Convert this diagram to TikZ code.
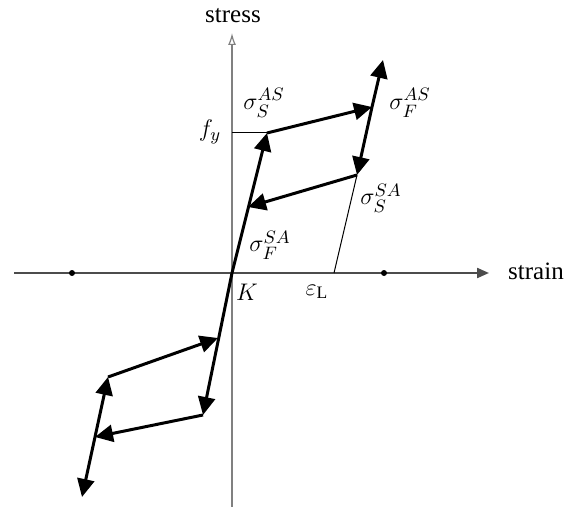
\documentclass[tikz,border=0pt]{standalone}
\usepackage{amsmath,amssymb}
\usepackage{fontspec}
\setmainfont{Liberation Serif}
\usetikzlibrary{arrows.meta}

\begin{document}
\begin{tikzpicture}[
    x=0.5pt, y=-0.5pt,
    axis/.style={draw=gray!60!black, line width=1.1pt},
    branch/.style={line width=1.5pt, line join=round, -{Triangle[length=9pt, width=8.5pt]}},
    guide/.style={draw=black, line width=0.5pt},
    dot/.style={circle, fill=black, inner sep=0pt, minimum size=3pt},
    every node/.style={font=\fontsize{12.5}{14}\selectfont, inner sep=1pt}
]
\useasboundingbox (0,0) rectangle (582,507);

\coordinate (K) at (232,273);
\coordinate (xl) at (14,273);
\coordinate (xr) at (489,273);
\coordinate (yb) at (232,507);
\coordinate (yt) at (232,33);
\coordinate (fy) at (232,133);
\coordinate (E) at (334,273);

\coordinate (Y) at (267,133);
\coordinate (P) at (372,107);
\coordinate (T) at (383,60);
\coordinate (U) at (357,175);
\coordinate (R) at (248,207);

\coordinate (Yl) at (203,415);
\coordinate (Pl) at (95,437);
\coordinate (Tl) at (82,497);
\coordinate (Ul) at (108,377);
\coordinate (Rl) at (218,338);

\draw[axis, -{Triangle[length=6pt, width=5pt]}] (xl) -- (xr);
\draw[axis, draw=gray, line width=0.6pt, -{Latex[open, length=6pt, width=4pt]}] (yb) -- (yt);

\node[dot] (d1) at (72,273) {};
\node[dot] (d2) at (384,273) {};

\draw[guide] (fy) -- (Y);
\draw[guide] (U) -- (E);

\draw[branch] (K) -- (Y);
\draw[branch] (Y) -- (P);
\draw[branch] (P) -- (T);
\draw[branch] (P) -- (U);
\draw[branch] (U) -- (R);

\draw[branch] (K) -- (Yl);
\draw[branch] (Yl) -- (Pl);
\draw[branch] (Pl) -- (Tl);
\draw[branch] (Pl) -- (Ul);
\draw[branch] (Ul) -- (Rl);

\node (stress) at (233,16) {stress};
\node (strain) at (536,271) {strain};
\node (fylab) at (210,132) {$f_y$};
\node (sSAS) at (264,103) {$\sigma_S^{AS}$};
\node (sFAS) at (410,103) {$\sigma_F^{AS}$};
\node (sSSA) at (381,198) {$\sigma_S^{SA}$};
\node (sFSA) at (270,245) {$\sigma_F^{SA}$};
\node (Klab) at (247,292) {$K$};
\node (eL) at (317,292) {$\varepsilon_{\mathrm{L}}$};

\end{tikzpicture}
\end{document}
